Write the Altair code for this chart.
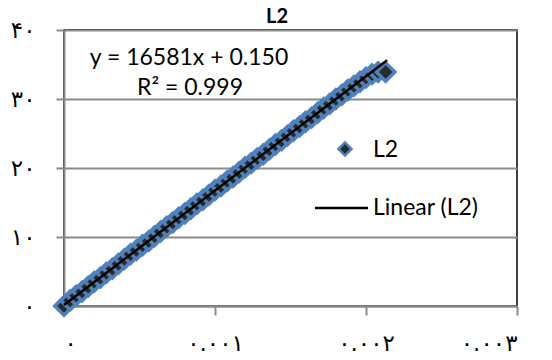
import altair as alt
import pandas as pd

title = "L2"
x_vals = [0, 0.00004, 0.00008, 0.00012, 0.00016, 0.00020, 0.00024, 0.00028, 0.00032, 0.00036,
          0.00040, 0.00044, 0.00048, 0.00052, 0.00056, 0.00060, 0.00064, 0.00068, 0.00072, 0.00076,
          0.00080, 0.00084, 0.00088, 0.00092, 0.00096, 0.00100, 0.00104, 0.00108, 0.00112, 0.00116,
          0.00120, 0.00124, 0.00128, 0.00132, 0.00136, 0.00140, 0.00144, 0.00148, 0.00152, 0.00156,
          0.00160, 0.00164, 0.00168, 0.00172, 0.00176, 0.00180, 0.00184, 0.00188, 0.00192, 0.00196,
          0.00200, 0.00204, 0.00208, 0.00213]
y_vals = [0.0, 0.8, 1.5, 2.1, 2.8, 3.5, 4.1, 4.8, 5.4, 6.1,
          6.8, 7.5, 8.1, 8.8, 9.4, 10.1, 10.8, 11.5, 12.1, 12.8,
          13.4, 14.1, 14.8, 15.4, 16.1, 16.8, 17.4, 18.1, 18.7, 19.4,
          20.1, 20.7, 21.4, 22.0, 22.7, 23.4, 24.0, 24.7, 25.4, 26.0,
          26.7, 27.3, 28.0, 28.7, 29.3, 30.0, 30.6, 31.3, 31.9, 32.5,
          33.1, 33.6, 33.9, 33.9]

slope = 16581
intercept = 0.150
trend_x = [0.0, 0.00214]
eq_text = "y = 16581x + 0.150"
r2_text = "R² = 0.999"

x_ticks = [0, 0.001, 0.002, 0.003]
x_labels = ["۰", "۰.۰۰۱", "۰.۰۰۲", "۰.۰۰۳"]
y_ticks = [0, 10, 20, 30, 40]
y_labels = ["۰", "۱۰", "۲۰", "۳۰", "۴۰"]
legend_items = ["L2", "Linear (L2)"]

BLUE = "#4F81BD"
GRID = "#8a8a8a"
TXT_FONT = "Lato"

df = pd.DataFrame({"x": x_vals, "y": y_vals})
trend = pd.DataFrame({"x": trend_x, "y": [slope * v + intercept for v in trend_x]})

def label_expr(ticks, labels):
    expr = "''"
    for t, l in zip(reversed(ticks), reversed(labels)):
        expr = f"abs(datum.value - {t}) < 1e-9 ? '{l}' : ({expr})"
    return expr

xscale = alt.Scale(domain=[0, 0.003], nice=False)
yscale = alt.Scale(domain=[0, 40], nice=False)

xaxis = alt.Axis(values=x_ticks, labelExpr=label_expr(x_ticks, x_labels), grid=False,
                 domainColor=GRID, domainWidth=2, tickColor=GRID, tickWidth=2, tickSize=9,
                 labelPadding=17, labelFont="DejaVu Sans", labelFontSize=23, labelColor="black",
                 title=None)
yaxis = alt.Axis(values=y_ticks, labelExpr=label_expr(y_ticks, y_labels), grid=True,
                 gridColor=GRID, gridWidth=2, domainColor=GRID, domainWidth=2,
                 tickColor=GRID, tickWidth=2, tickSize=8, labelPadding=21,
                 labelFont="DejaVu Sans", labelFontSize=23, labelColor="black", title=None)

points = alt.Chart(df).mark_point(shape="diamond", filled=True, size=340, fill="#2a2a2a",
                                  stroke=BLUE, strokeWidth=3.5, opacity=1).encode(
    x=alt.X("x:Q", scale=xscale, axis=xaxis),
    y=alt.Y("y:Q", scale=yscale, axis=yaxis),
)

line = alt.Chart(trend).mark_line(color="black", strokeWidth=2.5).encode(
    x=alt.X("x:Q", scale=xscale),
    y=alt.Y("y:Q", scale=yscale),
)

def txt(t, px, py, size=23, align="center", weight="normal"):
    return alt.Chart(pd.DataFrame({"t": [t]})).mark_text(
        font=TXT_FONT, fontSize=size, color="black", align=align, baseline="middle",
        fontWeight=weight).encode(text="t:N", x=alt.value(px), y=alt.value(py))

ttl = txt(title, 213, -13, size=20, weight="bold")
eq = txt(eq_text, 125, 28)
r2 = txt(r2_text, 126, 58)

leg_sym = alt.Chart(pd.DataFrame({"t": [legend_items[0]]})).mark_point(
    shape="diamond", filled=True, size=170, fill="#2a2a2a", stroke=BLUE, strokeWidth=2.5, opacity=1).encode(
    x=alt.value(281), y=alt.value(119))
leg_t1 = txt(legend_items[0], 309, 120, align="left")
leg_line = alt.Chart(pd.DataFrame({"t": [legend_items[1]]})).mark_rule(
    color="black", strokeWidth=2.5).encode(
    x=alt.value(251), x2=alt.value(304), y=alt.value(178))
leg_t2 = txt(legend_items[1], 309, 178, align="left")

chart = alt.layer(points, line, ttl, eq, r2, leg_sym, leg_t1, leg_line, leg_t2).properties(
    width=453, height=276,
    autosize=alt.AutoSizeParams(type="none"),
    padding={"left": 56, "top": 22, "right": 27, "bottom": 54},
    background="white",
).configure_view(stroke="black", strokeWidth=1.5)

chart.save("out.html", embed_options={"renderer": "svg", "actions": False})
